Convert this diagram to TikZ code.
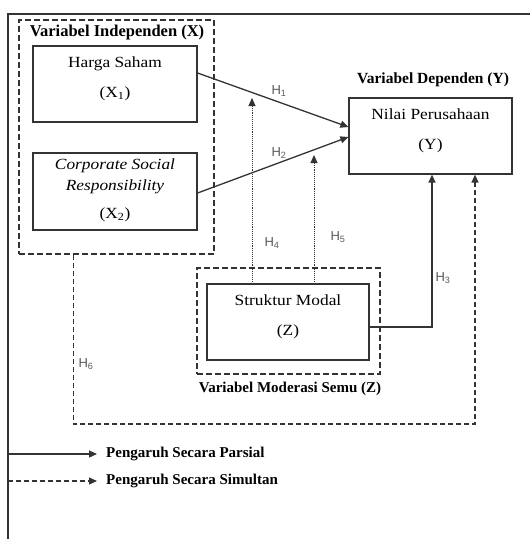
\documentclass[tikz,border=0pt]{standalone}
\usepackage{fontspec}
\setmainfont{Liberation Serif}
\newfontfamily\hypfont{Liberation Sans}
\newfontfamily\boxfont[FakeStretch=1.12]{Liberation Serif}
\usetikzlibrary{arrows.meta}
\colorlet{linecolor}{black!80}
\colorlet{hypcolor}{black!65}

\begin{document}
\begin{tikzpicture}
  [x=1pt,y=-1pt,line cap=butt,
   % Styles
   box/.style={draw=linecolor,line width=1.2pt,minimum width=164pt,minimum height=76pt,
     align=center,inner sep=0pt,text depth=14pt,font=\boxfont\fontsize{15.5}{15.5}\selectfont},
   group/.style={draw=linecolor,line width=1.1pt,dash pattern=on 6pt off 3pt,inner sep=0pt},
   title text/.style={inner sep=0pt,font=\fontsize{15}{15}\selectfont\bfseries},
   hyp text/.style={inner sep=0pt,text=hypcolor,font=\hypfont\fontsize{13}{13}\selectfont},
   partial/.style={draw=linecolor,line width=1.3pt,-{Triangle[length=8pt,width=7pt]}},
   simultan/.style={partial,dash pattern=on 5pt off 3pt},
   moderasi/.style={draw=linecolor,line width=.9pt,densely dotted,-{Triangle[length=8pt,width=7pt]}}]

  \useasboundingbox (0,0) rectangle (530,539);

  % Frame
  \draw[linecolor,line width=1.3pt] (530,14) -- (8,14) -- (8,539);

  % Groups
  \node[group,minimum width=195pt,minimum height=234pt] (indep) at (116.5,137) {};
  \node[group,minimum width=183pt,minimum height=106pt] (modgroup) at (288.5,321) {};

  \node[title text,font=\fontsize{16.5}{16.5}\selectfont\bfseries] (indeptitle) at (117,33) {Variabel Independen (X)};
  \node[title text,font=\fontsize{15.5}{15.5}\selectfont\bfseries] (deptitle) at (433,80) {Variabel Dependen (Y)};
  \node[title text] (modtitle) at (290,389) {Variabel Moderasi Semu (Z)};

  % Variables
  \node[box] (harga) at (115,84) {Harga Saham\\[15pt](X\textsubscript{1})};
  \node[box,minimum height=77pt,text depth=6pt,font=\boxfont\fontsize{15.5}{21}\selectfont] (csr) at (115,191.5)
    {\textit{Corporate Social}\\\textit{Responsibility}\\[7pt](X\textsubscript{2})};
  \node[box,minimum width=163pt] (nilai) at (430.5,136) {Nilai Perusahaan\\[15pt](Y)};
  \node[box,minimum width=162pt] (struktur) at (288,322) {Struktur Modal\\[15pt](Z)};

  % Hypotheses
  \coordinate (h4end) at (252,98);
  \coordinate (h5end) at (314,155);
  \coordinate (h6turn) at (475,424);

  \draw[partial] ([yshift=11pt]harga.east) -- ([yshift=9pt]nilai.west);
  \draw[partial] ([yshift=-1.5pt]csr.east) -- ([yshift=-1pt]nilai.west);
  \draw[partial] ([yshift=-5pt]struktur.east) -| ([xshift=1.5pt]nilai.south);
  \draw[moderasi] ([xshift=-36pt]struktur.north) -- (h4end);
  \draw[moderasi] ([xshift=26pt]struktur.north) -- (h5end);
  \draw[simultan] ([xshift=55pt]indep.south west) |- (h6turn) -- (nilai.south -| h6turn);

  \node[hyp text] (h1) at (279,91) {H\textsubscript{1}};
  \node[hyp text] (h2) at (279,153) {H\textsubscript{2}};
  \node[hyp text] (h3) at (443,278) {H\textsubscript{3}};
  \node[hyp text] (h4) at (272,243) {H\textsubscript{4}};
  \node[hyp text] (h5) at (338,237) {H\textsubscript{5}};
  \node[hyp text] (h6) at (86,364) {H\textsubscript{6}};

  % Legend
  \coordinate (parsialstart) at (8,454);
  \coordinate (simultanstart) at (8,481);
  \node[title text,anchor=west] (parsial) at (106,454) {Pengaruh Secara Parsial};
  \node[title text,anchor=west] (simultanlegend) at (106,481) {Pengaruh Secara Simultan};
  \draw[partial] (parsialstart) -- ([xshift=-9pt]parsial.west);
  \draw[simultan] (simultanstart) -- ([xshift=-9pt]simultanlegend.west);
\end{tikzpicture}
\end{document}
